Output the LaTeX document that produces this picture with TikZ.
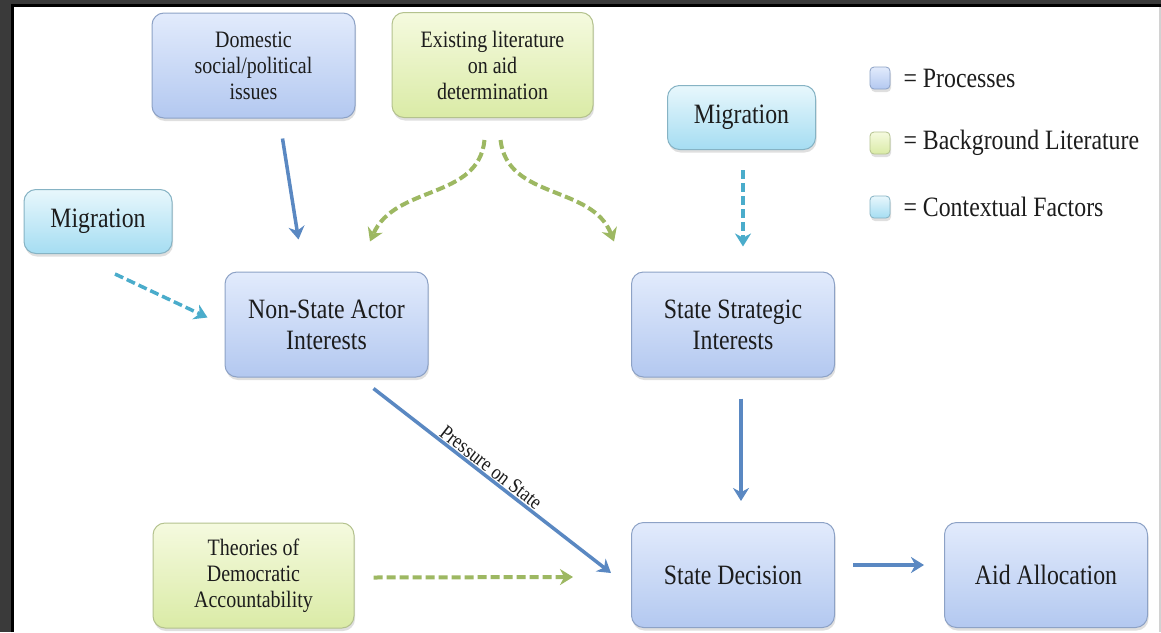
\documentclass[tikz,border=0pt]{standalone}
\usepackage{fontspec}
\setmainfont{Liberation Serif}[FakeStretch=0.85]
\usepackage{xcolor}
\usetikzlibrary{arrows.meta,positioning,shadows}
\definecolor{frameGray}{HTML}{3A3A3A}
\definecolor{textDark}{HTML}{1C1C1C}
\definecolor{procTop}{HTML}{E2EBFC}
\definecolor{procBot}{HTML}{B3C8F0}
\definecolor{procLine}{HTML}{8DA2C6}
\definecolor{litTop}{HTML}{F5FADF}
\definecolor{litBot}{HTML}{DAEBA6}
\definecolor{litLine}{HTML}{B4C28E}
\definecolor{ctxTop}{HTML}{E8F7FC}
\definecolor{ctxBot}{HTML}{A5DDF2}
\definecolor{ctxLine}{HTML}{86B3C4}
\definecolor{flowBlue}{HTML}{5A88C2}
\definecolor{litArrow}{HTML}{9DB862}
\definecolor{ctxArrow}{HTML}{4AACCB}

\begin{document}
\begin{tikzpicture}[x=1pt, y=-1pt, font=\fontsize{28}{31}\selectfont]
\tikzset{box/.style={draw, rounded corners=12pt, align=center, line width=1pt, text=textDark, drop shadow={opacity=0.25, shadow xshift=1pt, shadow yshift=-3pt}},
process/.style={box, draw=procLine, top color=procTop, bottom color=procBot, minimum width=203pt, minimum height=105pt},
literature/.style={box, draw=litLine, top color=litTop, bottom color=litBot, minimum width=201pt, minimum height=105pt, font=\fontsize{23.5}{26}\selectfont},
context/.style={box, draw=ctxLine, top color=ctxTop, bottom color=ctxBot, minimum width=148pt, minimum height=64pt},
keybox/.style={box, rounded corners=4pt, line width=0.8pt, minimum width=20pt, minimum height=22pt, inner sep=0pt},
keytext/.style={inner sep=0pt, right=13pt of #1, text=textDark},
flow/.style={draw=flowBlue, line width=3.5pt, -{Stealth[length=13pt,width=16pt]}},
litflow/.style={draw=litArrow, line width=4pt, dash pattern=on 9pt off 4pt, -{Stealth[length=13pt,width=16pt]}},
ctxflow/.style={draw=ctxArrow, line width=3.5pt, dash pattern=on 9pt off 4pt, -{Stealth[length=13pt,width=16pt]}}}
\useasboundingbox (0,0) rectangle (1161,632);
\fill[frameGray] (0,0) rectangle (1161,632);
\fill[white] (14,7) rectangle (1161,632);
\draw[black, line width=3pt] (12.5,632) -- (12.5,5.5) -- (1161,5.5);
\draw[gray!35, line width=1.5pt] (1160,7) -- (1160,632);
\node[process, font=\fontsize{23.5}{26}\selectfont] (domestic) at (253.5,65.5) {Domestic\\social/political\\issues};
\node[literature] (existing) at (492.5,65) {Existing literature\\on aid\\determination};
\node[context] (migright) at (741.5,117.5) {Migration};
\node[context] (migleft) at (98,221.5) {Migration};
\node[process] (nonstate) at (326.5,324.5) {Non-State Actor\\Interests};
\node[process] (strategic) at (733,324.5) {State Strategic\\Interests};
\node[process] (decision) at (733,575) {State Decision};
\node[process] (aid) at (1046,575) {Aid Allocation};
\node[literature] (theories) at (253.5,575.5) {Theories of\\Democratic\\Accountability};
\node[keybox, draw=procLine, top color=procTop, bottom color=procBot] (keyproc) at (880,78) {};
\node[keybox, draw=litLine, top color=litTop, bottom color=litBot] (keylit) at (880,143) {};
\node[keybox, draw=ctxLine, top color=ctxTop, bottom color=ctxBot] (keyctx) at (880,207) {};
\node[keytext=keyproc] (keyproctext) {= Processes};
\node[keytext=keylit] (keylittext) {= Background Literature};
\node[keytext=keyctx] (keyctxtext) {= Contextual Factors};
\draw[flow] ([xshift=29pt,yshift=-20pt]domestic.south) -- ([xshift=-28pt,yshift=32pt]nonstate.north);
\draw[litflow] ([xshift=-8pt,yshift=-22pt]existing.south) .. controls +(-6,60) and +(25,-57) .. ([xshift=43.5pt,yshift=30pt]nonstate.north);
\draw[litflow] ([xshift=8pt,yshift=-22pt]existing.south) .. controls +(7,60) and +(-22,-57) .. ([xshift=-119pt,yshift=30pt]strategic.north);
\draw[ctxflow] ([xshift=1.5pt,yshift=-20pt]migright.south) -- ([xshift=10pt,yshift=25pt]strategic.north);
\draw[ctxflow] ([xshift=17pt,yshift=-20pt]migleft.south) -- ([xshift=-17pt,yshift=7pt]nonstate.west);
\draw[flow] ([xshift=8pt,yshift=-21pt]strategic.south) -- ([xshift=8pt,yshift=21pt]decision.north);
\draw[flow] ([xshift=47pt,yshift=-11pt]nonstate.south) -- node[sloped, above, pos=0.47, inner sep=1pt, font=\fontsize{21}{22}\selectfont, text=textDark] {Pressure on State} ([xshift=-20pt,yshift=2pt]decision.west);
\draw[litflow] ([xshift=19pt,yshift=-2pt]theories.east) -- ([xshift=-58pt,yshift=-2pt]decision.west);
\draw[flow] ([xshift=18pt,yshift=10pt]decision.east) -- ([xshift=-20pt,yshift=10pt]aid.west);
\end{tikzpicture}
\end{document}
